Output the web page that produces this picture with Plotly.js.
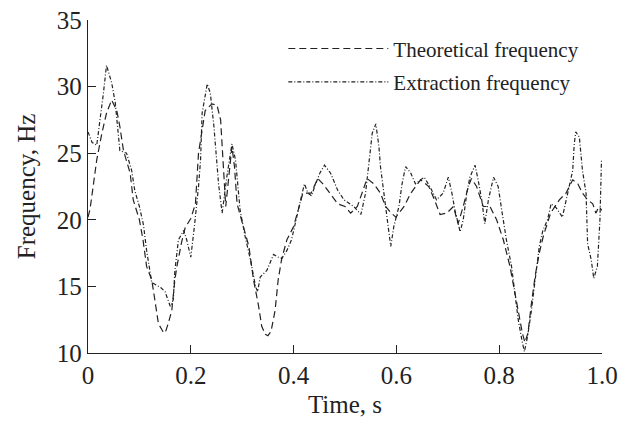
<!DOCTYPE html>
<html>
<head>
<meta charset="utf-8">
<script src="https://cdn.plot.ly/plotly-3.0.1.min.js"></script>
<style>html,body{margin:0;padding:0;background:#fff;}#chart{width:627px;height:424px;}</style>
</head>
<body>
<div id="chart"></div>
<script>
// Theoretical frequency (dashed)
var theoT = [0,0.004,0.01,0.017,0.027,0.036,0.046,0.056,0.062,0.069,0.082,0.088,0.1,0.107,0.114,0.124,0.13,0.137,0.146,0.15,0.156,0.163,0.169,0.173,0.182,0.189,0.2,0.209,0.215,0.228,0.241,0.251,0.258,0.264,0.268,0.28,0.285,0.29,0.303,0.313,0.322,0.332,0.338,0.345,0.35,0.356,0.364,0.37,0.377,0.387,0.4,0.409,0.418,0.434,0.447,0.457,0.467,0.486,0.5,0.511,0.524,0.543,0.556,0.569,0.579,0.59,0.599,0.615,0.628,0.647,0.663,0.672,0.685,0.698,0.711,0.72,0.73,0.74,0.746,0.756,0.769,0.782,0.795,0.808,0.821,0.831,0.838,0.845,0.85,0.856,0.862,0.87,0.878,0.886,0.9,0.917,0.93,0.943,0.953,0.962,0.972,0.982,0.988,0.994,1.0];
var theoF = [20.2,20.8,22.5,24.5,26.5,28,29,28.2,27,25.2,23.5,21.5,20,18.5,16.5,15.5,14,12.2,11.6,11.5,12.2,13.2,15.5,16.5,18.3,19.4,20.1,21.2,25,28.2,28.7,28.6,27.5,23.7,21,25.5,24,21.2,19.5,18,15.5,13.5,12,11.4,11.3,11.6,13.2,15.5,17.1,18.5,19.5,20.7,22,22,23.1,22.7,22.2,21.2,21,20.5,21,23.1,22.7,22,21,20.5,20.2,21,22,23,22.5,21.7,20.4,20.5,21,19.7,21,22.5,23.1,22.5,21,21,20,18.5,16.5,14.5,13,11.5,10.8,11.5,13.5,15.8,17.5,18.8,20.5,21.5,22,23,22.7,22,21.5,21.2,20.5,21,20.7];

// Extraction frequency (dash-dot)
var extrT = [0,0.008,0.017,0.023,0.03,0.036,0.046,0.053,0.058,0.062,0.075,0.085,0.091,0.1,0.108,0.114,0.124,0.134,0.142,0.15,0.16,0.166,0.169,0.176,0.186,0.192,0.2,0.207,0.212,0.215,0.219,0.222,0.232,0.238,0.245,0.254,0.261,0.27,0.28,0.287,0.296,0.306,0.316,0.326,0.33,0.335,0.348,0.361,0.37,0.377,0.387,0.396,0.409,0.421,0.428,0.435,0.441,0.451,0.46,0.472,0.486,0.498,0.517,0.531,0.54,0.547,0.553,0.56,0.566,0.569,0.576,0.582,0.589,0.595,0.605,0.611,0.618,0.628,0.637,0.654,0.665,0.678,0.691,0.701,0.708,0.714,0.724,0.73,0.737,0.743,0.753,0.759,0.766,0.772,0.779,0.789,0.798,0.805,0.814,0.824,0.831,0.837,0.844,0.849,0.855,0.862,0.87,0.878,0.885,0.894,0.901,0.911,0.923,0.93,0.936,0.943,0.946,0.949,0.956,0.962,0.969,0.972,0.979,0.984,0.991,0.996,0.999];
var extrF = [26.6,25.8,25.6,27.3,29.5,31.6,30.3,28.8,27,25.2,25,23.7,22.2,21,19.6,17.7,15.3,15.1,14.9,14.6,13.5,14,16.2,18.5,19.2,18.5,17.2,19.5,21.2,22.5,24.5,28,30.2,29.5,27,22.7,20.5,23.2,25.7,24.5,20.7,18.7,17,15,14.6,15.7,16.2,17.4,17.2,17.1,17.7,18.5,20.7,22.7,22,21.8,22.5,23.5,24.1,23.5,22.2,21.5,21,20.4,22,24.5,26.5,27.2,25.5,24,22,20.2,18,19.5,21,22.7,24,23.5,22.7,23.2,22.5,21.5,22,23.2,22,20.7,19.1,20,22,23.2,24.1,23,21.5,19.7,21.5,23.2,22.5,20.7,18.5,16.5,14.5,12.5,11,10.1,11.2,13,15.5,18,19.2,20,21.2,20.9,20.2,21.5,22.5,23.7,25.7,26.6,26.2,23.7,22,18.2,17,15.6,16.5,20,24.5];

var names = ["Theoretical frequency", "Extraction frequency"];
var xTicks = [0, 0.2, 0.4, 0.6, 0.8, 1.0];
var xTickText = ["0", "0.2", "0.4", "0.6", "0.8", "1.0"];
var yTicks = [10, 15, 20, 25, 30, 35];

var serif = "Liberation Serif, Times New Roman, serif";
var ink = "#222";

var traces = [
  {x: theoT, y: theoF, name: names[0], type: "scatter", mode: "lines", legendgroup: "a",
   line: {color: ink, width: 1.2, dash: "7px,4px"}},
  {x: extrT, y: extrF, name: names[1], type: "scatter", mode: "lines", legendgroup: "b",
   line: {color: ink, width: 1.2, dash: "4px,2px,1px,2px"}}
];

var layout = {
  width: 627, height: 424,
  margin: {l: 88, r: 25, t: 20, b: 71},
  paper_bgcolor: "#fff", plot_bgcolor: "#fff",
  font: {family: serif, color: ink, size: 25},
  showlegend: true,
  legend: {x: 0.38, y: 0.975, xanchor: "left", yanchor: "top", bgcolor: "rgba(0,0,0,0)",
           font: {family: serif, size: 21, color: ink}, itemwidth: 100, tracegroupgap: 3},
  xaxis: {range: [0, 1.0], tickvals: xTicks, ticktext: xTickText, ticks: "inside", ticklen: 8,
          tickcolor: ink, showline: true, linecolor: ink, linewidth: 1.2, showgrid: false,
          zeroline: false, mirror: false, tickfont: {family: serif, size: 25, color: ink},
          title: {text: "Time, s", font: {family: serif, size: 25, color: ink}, standoff: 7}},
  yaxis: {range: [10, 35], tickvals: yTicks, ticks: "inside", ticklen: 8,
          tickcolor: ink, showline: true, linecolor: ink, linewidth: 1.2, showgrid: false,
          zeroline: false, mirror: false, tickfont: {family: serif, size: 25, color: ink},
          title: {text: "Frequency, Hz", font: {family: serif, size: 25, color: ink}, standoff: 14}}
};

Plotly.newPlot("chart", traces, layout, {staticPlot: true, displayModeBar: false});
</script>
</body>
</html>
